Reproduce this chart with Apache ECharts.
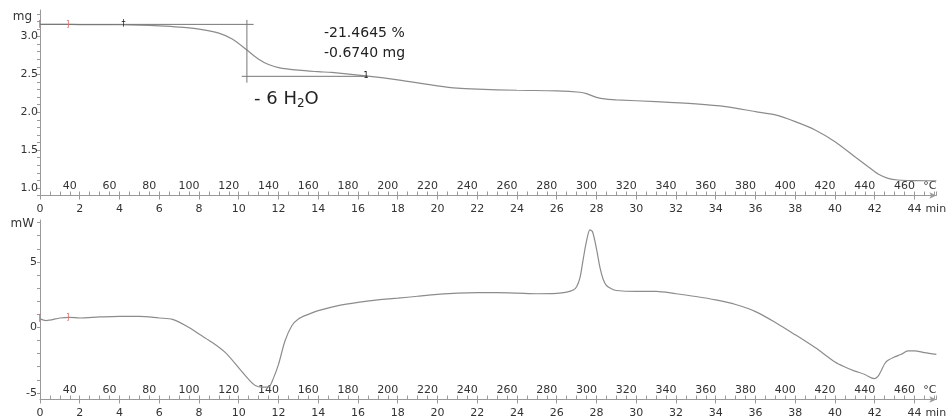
<!DOCTYPE html>
<html><head><meta charset="utf-8">
<script src="https://cdn.jsdelivr.net/npm/echarts@6/dist/echarts.min.js"></script>
<style>html,body{margin:0;padding:0;background:#fff}#c{width:947px;height:420px}</style>
</head><body><div id="c"></div>
<script>
// ---- data ----
const timeTG = [0,1,2,3,4,5,6,7,8,9,9.67,10.4,11,11.5,12,13,14,14.67,16.5,18,20,21,22,24,26,27.17,27.5,28,28.5,29,31,33,34.5,36,37,38,39,40,41,41.67,42.17,42.67,43.17,44,45.1];
const massTG = [3.16,3.16,3.158,3.156,3.155,3.15,3.14,3.124,3.098,3.045,2.966,2.824,2.70,2.63,2.59,2.555,2.535,2.525,2.476,2.427,2.348,2.317,2.304,2.29,2.282,2.264,2.245,2.195,2.172,2.163,2.14,2.11,2.074,2.008,1.964,1.876,1.766,1.611,1.413,1.28,1.184,1.127,1.105,1.097,1.095];
const timeDSC = [0,0.3,1,1.5,2,3,4,5,6,6.67,7.5,8,8.67,9.33,10,10.5,10.83,11.17,11.5,11.75,12,12.33,12.67,13,13.5,14,15,16,17,18,19,20,21,22,23,24,25,26,26.5,26.83,27,27.17,27.33,27.5,27.67,27.8,28,28.17,28.33,28.5,28.75,29,30,31,32,33,34,35,36,37,38,39,40,40.5,41,41.5,41.83,42,42.17,42.33,42.5,42.67,43,43.33,43.67,44,44.5,45.1];
const heatDSC = [0.65,0.52,0.72,0.77,0.72,0.8,0.85,0.85,0.72,0.62,0,-0.51,-1.15,-1.92,-3.08,-3.97,-4.43,-4.56,-4.54,-3.85,-2.82,-1.02,0.13,0.65,1.0,1.28,1.67,1.92,2.1,2.23,2.38,2.52,2.62,2.65,2.65,2.62,2.57,2.6,2.69,2.85,3.1,3.8,5.2,6.6,7.45,7.3,6.0,4.6,3.7,3.2,2.95,2.82,2.75,2.75,2.57,2.36,2.1,1.75,1.21,0.38,-0.56,-1.54,-2.64,-3.02,-3.33,-3.59,-3.85,-3.9,-3.72,-3.28,-2.77,-2.51,-2.25,-2.05,-1.79,-1.79,-1.92,-2.05];

const timeMin = 0, timeMax = 45.1, timeStep = 2;
const tempStart = 25, heatingRate = 10; // °C per min
const tempMax = tempStart + heatingRate * timeMax;
const tempLabelStep = 20, tempTickStep = 5;

// step evaluation (TG)
const stepUpperT = [0, 10.75], stepUpperMg = 3.16;
const stepLowerT = [10.15, 16.5], stepLowerMg = 2.474;
const stepMidT = 10.41, stepMidMg = [3.22, 2.39];
const stepPercent = '-21.4645 %';
const stepMass = '-0.6740 mg';
const stepLabel = '- 6 H{s|2}O';

// range markers
const rangeT = [0, 1.4];
const rangeTG = [3.16, 3.16];
const rangeDSC = [0.65, 0.77];
const rangeSym = ['[', ']'];
const evalMarkT = [4.2, 16.4];
const evalMarkMg = [3.17, 2.48];
const evalMarkSym = ['\u2020', '1'];

// ---- chart ----
const FONT = 'DejaVu Sans';
const AX = '#9a9a9a';
const TXT = '#333';
const LINE = '#8c8c8c';

function timeAxis(g) {
  return {
    type: 'value', gridIndex: g, position: 'bottom', min: timeMin, max: timeMax, interval: timeStep,
    axisLine: { show: true, onZero: false, lineStyle: { color: AX, width: 1 }, symbol: ['none', 'arrow'], symbolSize: [5, 7] },
    axisTick: { show: true, length: 4, lineStyle: { color: AX } },
    axisLabel: { margin: 8, color: TXT, fontSize: 11, fontFamily: FONT, showMaxLabel: false,
      formatter: v => (Math.abs(v % timeStep) < 1e-6 && v <= 44 + 1e-6) ? String(Math.round(v)) : '' },
    splitLine: { show: false },
    name: 'min', nameLocation: 'end', nameGap: 0,
    nameTextStyle: { color: TXT, fontSize: 11, fontFamily: FONT, align: 'right', verticalAlign: 'top', padding: [8, 0, 0, 0] }
  };
}
function tempAxis(g) {
  return {
    type: 'value', gridIndex: g, position: 'bottom', min: tempStart, max: tempMax, interval: tempTickStep,
    axisLine: { show: false, onZero: false },
    axisTick: { show: true, inside: true, length: 4, lineStyle: { color: AX } },
    axisLabel: { inside: true, margin: 4, color: TXT, fontSize: 11, fontFamily: FONT,
      formatter: v => (Math.abs(v % tempLabelStep) < 1e-6 && v < 470) ? String(Math.round(v)) : '' },
    splitLine: { show: false },
    name: '°C', nameLocation: 'end', nameGap: 0,
    nameTextStyle: { color: TXT, fontSize: 11, fontFamily: FONT, align: 'right', verticalAlign: 'bottom', padding: [0, 0, 4, 0] }
  };
}

const tg = timeTG.map((t, i) => [t, massTG[i]]);
const dsc = timeDSC.map((t, i) => [t, heatDSC[i]]);

function markerLabels(ts, vs, syms, color, size) {
  return {
    symbol: 'rect', symbolSize: 1, itemStyle: { color: 'rgba(0,0,0,0)' },
    label: { show: true, position: 'inside', color: color, fontSize: size, fontFamily: FONT, formatter: p => p.name },
    data: ts.map((t, i) => ({ name: syms[i], coord: [t, vs[i]] }))
  };
}

const option = {
  animation: false,
  backgroundColor: '#fff',
  grid: [
    { left: 40, right: 5, top: 10, bottom: 224.5 },
    { left: 40, right: 5, top: 220, bottom: 20.5 }
  ],
  xAxis: [timeAxis(0), tempAxis(0), timeAxis(1), tempAxis(1)],
  yAxis: [
    { type: 'value', gridIndex: 0, min: 0.9, max: 3.35, interval: 0.1,
      axisLine: { show: true, onZero: false, lineStyle: { color: AX } },
      axisTick: { show: true, length: 3, lineStyle: { color: AX } },
      axisLabel: { margin: 2, color: TXT, fontSize: 11, fontFamily: FONT, showMaxLabel: false,
        formatter: v => (Math.abs(v * 2 - Math.round(v * 2)) < 1e-6) ? v.toFixed(1) : '' },
      splitLine: { show: false },
      name: 'mg', nameLocation: 'end', nameGap: 0,
      nameTextStyle: { color: TXT, fontSize: 12, fontFamily: FONT, align: 'right', verticalAlign: 'top', padding: [1, 8, 0, 0] } },
    { type: 'value', gridIndex: 1, min: -5.5, max: 8.2, splitNumber: 14,
      axisLine: { show: true, onZero: false, lineStyle: { color: AX } },
      axisTick: { show: true, length: 3, lineStyle: { color: AX } },
      axisLabel: { margin: 3, color: TXT, fontSize: 11, fontFamily: FONT, showMaxLabel: false, showMinLabel: false,
        formatter: v => (Math.abs(v % 5) < 1e-6) ? String(Math.round(v)) : '' },
      splitLine: { show: false },
      name: 'mW', nameLocation: 'end', nameGap: 0,
      nameTextStyle: { color: TXT, fontSize: 12, fontFamily: FONT, align: 'right', verticalAlign: 'top', padding: [-2, 6, 0, 0] } }
  ],
  series: [
    { type: 'line', xAxisIndex: 0, yAxisIndex: 0, data: tg, showSymbol: false, symbol: 'none', smooth: 0.3,
      lineStyle: { color: LINE, width: 1.2 },
      markPoint: markerLabels(rangeT, rangeTG, rangeSym, '#e07070', 9) },
    { type: 'line', xAxisIndex: 0, yAxisIndex: 0, symbol: 'none', lineStyle: { color: '#777', width: 1 },
      data: stepUpperT.map(t => [t, stepUpperMg]),
      markPoint: markerLabels(evalMarkT, evalMarkMg, evalMarkSym, '#111', 8) },
    { type: 'line', xAxisIndex: 0, yAxisIndex: 0, symbol: 'none', lineStyle: { color: '#777', width: 1 },
      data: stepLowerT.map(t => [t, stepLowerMg]) },
    { type: 'line', xAxisIndex: 0, yAxisIndex: 0, symbol: 'none', lineStyle: { color: '#777', width: 1 },
      data: stepMidMg.map(m => [stepMidT, m]) },
    { type: 'line', xAxisIndex: 2, yAxisIndex: 1, data: dsc, showSymbol: false, symbol: 'none', smooth: 0.3,
      lineStyle: { color: LINE, width: 1.2 },
      markPoint: markerLabels(rangeT, rangeDSC, rangeSym, '#e07070', 9) }
  ],
  graphic: [
    { type: 'text', left: 324, top: 26, style: { text: stepPercent, fontSize: 14, fontFamily: FONT, fill: '#222' } },
    { type: 'text', left: 324, top: 46, style: { text: stepMass, fontSize: 14, fontFamily: FONT, fill: '#222' } },
    { type: 'text', left: 254, top: 90, style: { text: stepLabel, fontSize: 18, fontFamily: FONT, fill: '#222',
      rich: { s: { fontSize: 12, fontFamily: FONT, fill: '#222', padding: [9, 0, 0, 0] } } } }
  ]
};
const chart = echarts.init(document.getElementById('c'), null, { renderer: 'canvas' });
chart.setOption(option);
</script></body></html>
